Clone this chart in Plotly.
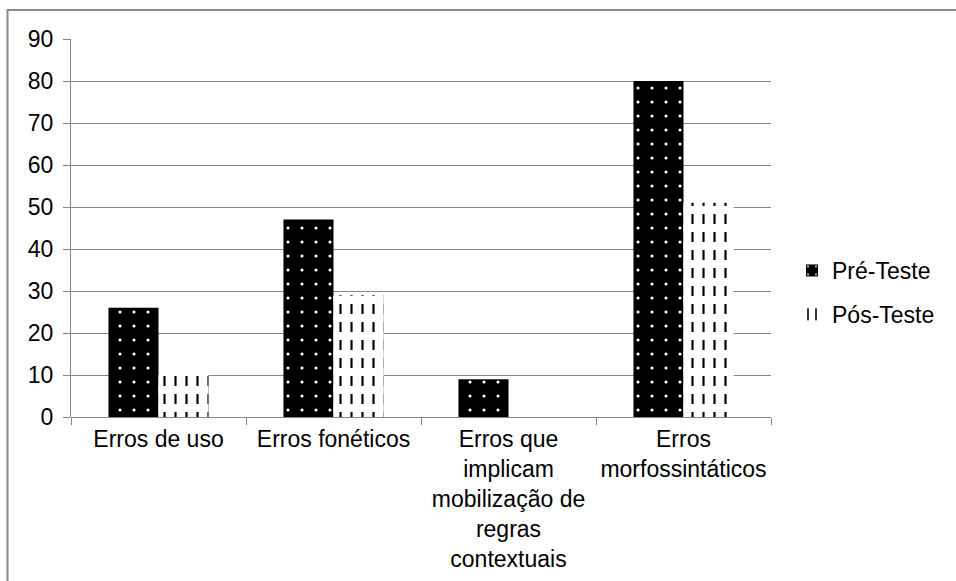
import plotly.graph_objects as go

categories = ["Erros de uso", "Erros fonéticos",
              "Erros que<br>implicam<br>mobilização de<br>regras<br>contextuais",
              "Erros<br>morfossintáticos"]
pre_teste = [26, 47, 9, 80]
pos_teste = [10, 29, 0, 51]
series_names = ["Pré-Teste", "Pós-Teste"]
y_ticks = [0, 10, 20, 30, 40, 50, 60, 70, 80, 90]

W, H = 956, 581
L, R, T, B = 71, 185, 39, 164
pw, ph = W - L - R, H - T - B

bw = 0.286
font = dict(family="Liberation Sans, Arial, sans-serif", size=23, color="black")

fig = go.Figure()
fig.add_trace(go.Bar(
    x=categories, y=pre_teste, name=series_names[0], offset=-bw, width=bw,
    opacity=1,
    marker=dict(color="black", line=dict(width=0),
                pattern=dict(shape=".", fgcolor="white", bgcolor="black",
                             fgopacity=1, size=14, solidity=0.04)),
    legendgroup="a"))
fig.add_trace(go.Bar(
    x=categories, y=pos_teste, name=series_names[1], offset=0, width=bw,
    opacity=1,
    marker=dict(color="white", line=dict(width=0),
                pattern=dict(shape="|", fgcolor="black", bgcolor="white",
                             fgopacity=1, size=11, solidity=0.2)),
    legendgroup="b"))
# white horizontal breaks turning the vertical lines into dashes
fig.add_trace(go.Bar(
    x=categories, y=pos_teste, offset=0, width=bw, showlegend=False,
    hoverinfo="skip", opacity=1,
    marker=dict(color="rgba(0,0,0,0)", line=dict(width=0),
                pattern=dict(shape="-", fgcolor="white", bgcolor="rgba(0,0,0,0)",
                             fgopacity=1, size=18, solidity=0.45))))

gx = lambda px: (px - L) / pw
gy = lambda py: (H - B - py) / ph

fig.update_layout(
    width=W, height=H, barmode="overlay",
    margin=dict(l=L, r=R, t=T, b=B, autoexpand=False),
    paper_bgcolor="white", plot_bgcolor="white",
    font=font,
    xaxis=dict(showline=False, ticks="outside", tickson="boundaries",
               ticklen=7, tickcolor="#868686", showgrid=False, tickangle=0,
               tickfont=font, range=[-0.5, 3.5], ticklabelstandoff=6),
    yaxis=dict(range=[0, 90], tickvals=y_ticks, showgrid=True,
               gridcolor="#868686", gridwidth=1, showline=True,
               linecolor="#868686", linewidth=1, ticks="outside",
               ticklen=7, tickcolor="#868686", zeroline=True,
               zerolinecolor="#868686", zerolinewidth=1, tickfont=font,
               ticklabelstandoff=5),
    legend=dict(x=gx(792), y=gy(249), xanchor="left", yanchor="top",
                font=font, tracegroupgap=11, bgcolor="rgba(0,0,0,0)",
                itemwidth=30),
    shapes=[
        dict(type="line", xref="paper", yref="paper", x0=gx(7), x1=gx(960),
             y0=gy(10), y1=gy(10), line=dict(color="#8a8a8a", width=2)),
        dict(type="line", xref="paper", yref="paper", x0=gx(7.5), x1=gx(7.5),
             y0=gy(9), y1=gy(585), line=dict(color="#8a8a8a", width=2)),
    ],
)
fig.write_html("out.html", config={"displayModeBar": False},
               post_script="document.body.style.margin='0';document.body.style.overflow='hidden';")
